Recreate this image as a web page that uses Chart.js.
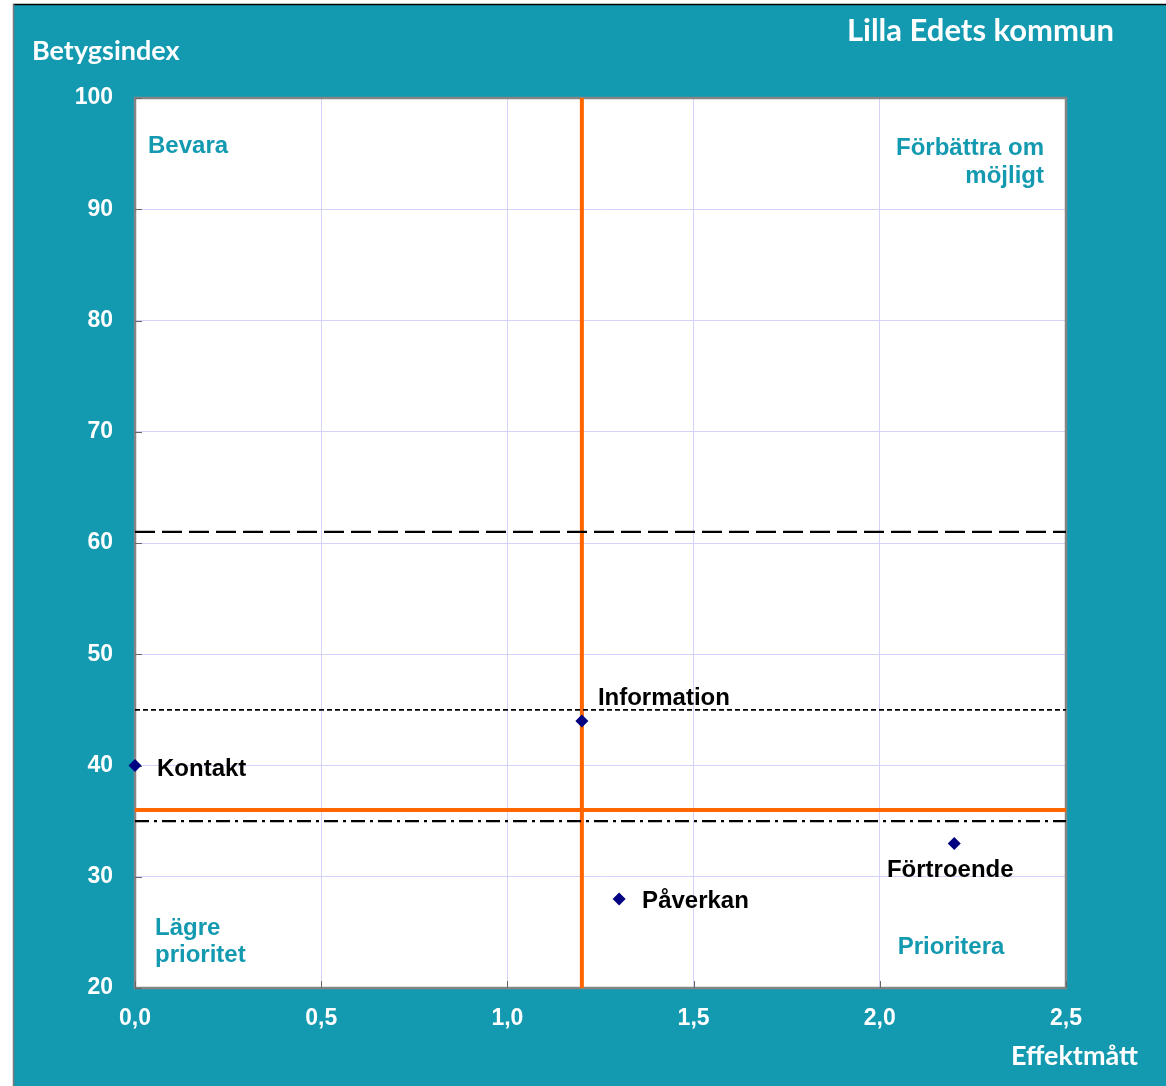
<!DOCTYPE html>
<html>
<head>
<meta charset="utf-8">
<script src="https://cdn.jsdelivr.net/npm/chart.js@4/dist/chart.umd.min.js"></script>
<style>
html,body{margin:0;padding:0;background:#fff;}
canvas{display:block;}
</style>
</head>
<body>
<canvas id="chart" width="1166" height="1086"></canvas>
<script>

// DATA

const names = ["Kontakt","Information","Påverkan","Förtroende"];
const effekt = [0.0, 1.2, 1.3, 2.2];
const betyg = [40, 44, 28, 33];

const xTicks = [0, 0.5, 1.0, 1.5, 2.0, 2.5];
const yTicks = [20, 30, 40, 50, 60, 70, 80, 90, 100];

// reference lines
const medianX = 1.2;
const medianY = 36;
const refLongDash = 61;
const refShortDash = 45;
const refDashDot = 35;

const teal = "#139AB0";
const orange = "#FF6600";

// label offsets from the marker, in pixels
const labelPos = {
"Kontakt":{dx:22,dy:10,align:"left"},
"Information":{dx:16,dy:-16,align:"left"},
"Påverkan":{dx:23,dy:9,align:"left"},
"Förtroende":{dx:-4,dy:34,align:"center"}
};

const xMin = xTicks[0], xMax = xTicks[xTicks.length-1];
const yMin = yTicks[0], yMax = yTicks[yTicks.length-1];

function hLine(y){ return [{x:xMin,y:y},{x:xMax,y:y}]; }
function vLine(x){ return [{x:x,y:yMin},{x:x,y:yMax}]; }

const frame = {
id:"frame",
beforeDraw(chart){
const c = chart.ctx;
const a = chart.chartArea;
c.save();
c.fillStyle = "#fff";
c.fillRect(0,0,chart.width,chart.height);
c.fillStyle = teal;
c.fillRect(13,4,chart.width-13,chart.height-4);
c.strokeStyle = "#000";
c.lineWidth = 1.5;
c.beginPath();
c.moveTo(13,4.5); c.lineTo(chart.width,4.5);
c.stroke();
c.strokeStyle = "#777";
c.beginPath();
c.moveTo(13.5,4); c.lineTo(13.5,chart.height);
c.stroke();
c.fillStyle = "#fff";
c.fillRect(a.left,a.top,a.right-a.left,a.bottom-a.top);
c.restore();
},
beforeDatasetsDraw(chart){
const c = chart.ctx;
const a = chart.chartArea;
c.save();
c.strokeStyle = "#858585";
c.lineWidth = 2.5;
c.strokeRect(a.left,a.top,a.right-a.left,a.bottom-a.top);
// small inner tick marks
c.lineWidth = 1;
c.strokeStyle = "#666";
const xs = chart.scales.x, ys = chart.scales.y;
yTicks.forEach(v=>{
const p = Math.round(ys.getPixelForValue(v))+0.5;
c.beginPath(); c.moveTo(a.left,p); c.lineTo(a.left+7,p); c.stroke();
});
xTicks.forEach(v=>{
const p = Math.round(xs.getPixelForValue(v))+0.5;
c.beginPath(); c.moveTo(p,a.bottom); c.lineTo(p,a.bottom-7); c.stroke();
});
c.restore();
},
afterDraw(chart){
const c = chart.ctx;
const a = chart.chartArea;
const xs = chart.scales.x, ys = chart.scales.y;
c.save();
c.textBaseline = "alphabetic";

// headers
c.fillStyle = "#fff";
c.font = "bold 27px Lato";
c.textAlign = "left";
c.fillText("Betygsindex",32,60);
c.font = "bold 31px Lato";
c.textAlign = "right";
c.fillText("Lilla Edets kommun",1114,41);
c.font = "bold 27px Lato";
c.fillText("Effektmått",1138,1065);

// quadrant texts
c.fillStyle = teal;
c.font = "bold 24px 'Liberation Sans'";
c.textAlign = "left";
c.fillText("Bevara",a.left+13,a.top+55);
c.fillText("Lägre",a.left+20,a.bottom-53);
c.fillText("prioritet",a.left+20,a.bottom-26);
c.textAlign = "right";
c.fillText("Förbättra om",a.right-22,a.top+57);
c.fillText("möjligt",a.right-22,a.top+85);
c.textAlign = "center";
c.fillText("Prioritera",a.right-115,a.bottom-34);

// point labels
c.fillStyle = "#000";
names.forEach((n,i)=>{
const p = labelPos[n];
c.textAlign = p.align;
c.fillText(n, xs.getPixelForValue(effekt[i])+p.dx, ys.getPixelForValue(betyg[i])+p.dy);
});
c.restore();
}
};

new Chart(document.getElementById("chart"),{
type:"scatter",
data:{
datasets:[
{
label:"Punkter",
data:names.map((n,i)=>({x:effekt[i],y:betyg[i]})),
pointStyle:"rectRot",
pointRadius:6.5,
pointHoverRadius:6.5,
backgroundColor:"#000080",
borderColor:"#000080",
borderWidth:0,
clip:false
},
{
data:hLine(refLongDash),
showLine:true,
borderColor:"#000",
borderWidth:2.2,
borderDash:[20,7],
pointRadius:0
},
{
data:hLine(refShortDash),
showLine:true,
borderColor:"#000",
borderWidth:1.6,
borderDash:[5,3],
pointRadius:0
},
{
data:hLine(refDashDot),
showLine:true,
borderColor:"#000",
borderWidth:2.2,
borderDash:[14,5,3,5],
pointRadius:0
},
{
data:vLine(medianX),
showLine:true,
borderColor:orange,
borderWidth:4,
pointRadius:0
},
{
data:hLine(medianY),
showLine:true,
borderColor:orange,
borderWidth:4,
pointRadius:0
}
]
},
options:{
responsive:false,
animation:false,
layout:{padding:{top:98,right:100,bottom:0,left:0}},
plugins:{legend:{display:false},tooltip:{enabled:false}},
scales:{
x:{
type:"linear",
min:xMin,
max:xMax,
afterFit(s){ s.height = 98; },
afterBuildTicks(s){ s.ticks = xTicks.map(v=>({value:v})); },
grid:{color:"#D2D2FA",lineWidth:1,drawTicks:false},
border:{display:false},
ticks:{
padding:17,
color:"#fff",
font:{family:"'Liberation Sans'",size:23,weight:"bold"},
callback:v=>v.toFixed(1).replace(".",",")
}
},
y:{
type:"linear",
min:yMin,
max:yMax,
afterFit(s){ s.width = 135; },
afterBuildTicks(s){ s.ticks = yTicks.map(v=>({value:v})); },
grid:{color:"#D2D2FA",lineWidth:1,drawTicks:false},
border:{display:false},
ticks:{
padding:22,
color:"#fff",
font:{family:"'Liberation Sans'",size:23,weight:"bold"}
}
}
}
},
plugins:[frame]
});

</script>
</body>
</html>
